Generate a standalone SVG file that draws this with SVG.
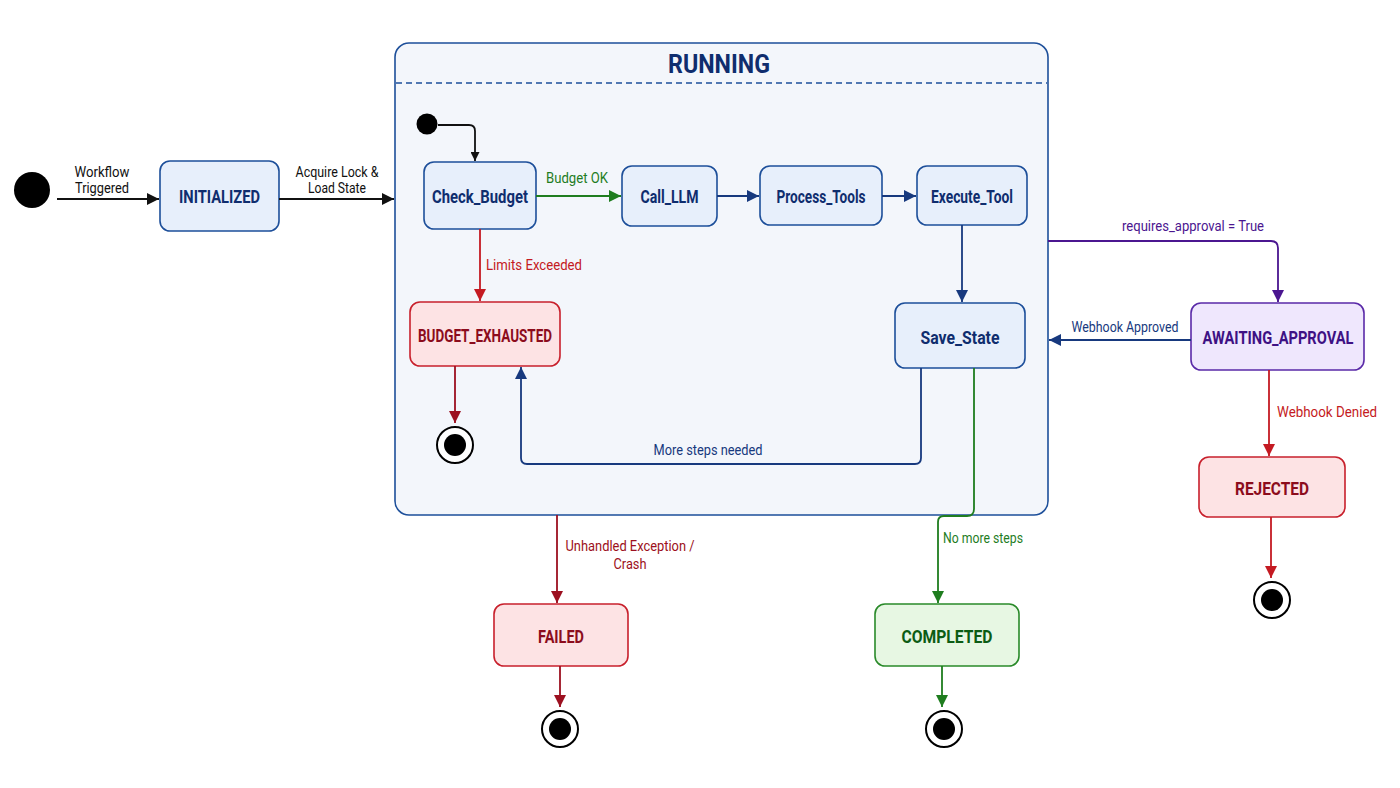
<svg xmlns="http://www.w3.org/2000/svg" width="1400" height="788" viewBox="0 0 1400 788">
<defs>
<style>
text{font-family:"Roboto","Liberation Sans",sans-serif;}
.n{font-size:18px;font-weight:bold;text-anchor:middle;dominant-baseline:central;}
.l{font-size:15px;}
.blue rect{fill:#e7effb;stroke:#1d4f9a;stroke-width:1.6;}
.blue text{fill:#0f2d6e;}
.red rect{fill:#fde3e4;stroke:#c8202c;stroke-width:1.6;}
.red text{fill:#8c0c1c;}
.green rect{fill:#e7f7e3;stroke:#2a8a2a;stroke-width:1.6;}
.green text{fill:#0c5c14;}
.purple rect{fill:#efe7fd;stroke:#5a2aa8;stroke-width:1.6;}
.purple text{fill:#3e1184;}
.e{fill:none;stroke-width:1.8;}
.k{stroke:#111;}
.b{stroke:#17397e;}
.r{stroke:#c41a22;}
.dr{stroke:#9c1020;}
.g{stroke:#1f7d1f;}
.p{stroke:#4b1690;}
</style>
<marker id="ak" viewBox="0 0 10 10" refX="10" refY="5" markerWidth="9" markerHeight="9" markerUnits="userSpaceOnUse" orient="auto"><path d="M0,0L10,5L0,10z" fill="#111"/></marker>
<marker id="ab" viewBox="0 0 10 10" refX="10" refY="5" markerWidth="12" markerHeight="12" markerUnits="userSpaceOnUse" orient="auto"><path d="M0,0L10,5L0,10z" fill="#17397e"/></marker>
<marker id="ar" viewBox="0 0 10 10" refX="10" refY="5" markerWidth="12" markerHeight="12" markerUnits="userSpaceOnUse" orient="auto"><path d="M0,0L10,5L0,10z" fill="#c41a22"/></marker>
<marker id="adr" viewBox="0 0 10 10" refX="10" refY="5" markerWidth="12" markerHeight="12" markerUnits="userSpaceOnUse" orient="auto"><path d="M0,0L10,5L0,10z" fill="#9c1020"/></marker>
<marker id="ag" viewBox="0 0 10 10" refX="10" refY="5" markerWidth="12" markerHeight="12" markerUnits="userSpaceOnUse" orient="auto"><path d="M0,0L10,5L0,10z" fill="#1f7d1f"/></marker>
<marker id="ap" viewBox="0 0 10 10" refX="10" refY="5" markerWidth="12" markerHeight="12" markerUnits="userSpaceOnUse" orient="auto"><path d="M0,0L10,5L0,10z" fill="#4b1690"/></marker>
<marker id="ak2" viewBox="0 0 10 10" refX="10" refY="5" markerWidth="12" markerHeight="12" markerUnits="userSpaceOnUse" orient="auto"><path d="M0,0L10,5L0,10z" fill="#111"/></marker>
</defs>
<rect width="1400" height="788" fill="#ffffff"/>

<g id="RUNNING">
<rect x="395" y="43" width="653" height="472" rx="14" fill="#f3f6fb" stroke="#1d4f9a" stroke-width="1.6"/>
<line x1="396" y1="83" x2="1047" y2="83" stroke="#1d4f9a" stroke-width="1.4" stroke-dasharray="6,4"/>
<text x="719" y="64" font-size="26" font-weight="bold" fill="#0f2d6e" text-anchor="middle" dominant-baseline="central" textLength="102" lengthAdjust="spacingAndGlyphs">RUNNING</text>
</g>

<g id="start">
<circle cx="32" cy="190" r="18" fill="#000"/>
</g>
<g id="inner_start">
<circle cx="427" cy="124" r="10.5" fill="#000"/>
</g>

<g id="INITIALIZED" class="blue">
<rect x="160" y="161" width="119" height="70" rx="10"/>
<text class="n" x="219.5" y="196" textLength="81" lengthAdjust="spacingAndGlyphs">INITIALIZED</text>
</g>
<g id="Check_Budget" class="blue">
<rect x="424" y="162" width="112" height="67" rx="10"/>
<text class="n" x="480" y="196" textLength="96" lengthAdjust="spacingAndGlyphs">Check_Budget</text>
</g>
<g id="Call_LLM" class="blue">
<rect x="622" y="166" width="95" height="60" rx="10"/>
<text class="n" x="669.5" y="196" textLength="58" lengthAdjust="spacingAndGlyphs">Call_LLM</text>
</g>
<g id="Process_Tools" class="blue">
<rect x="760" y="166" width="122" height="59" rx="10"/>
<text class="n" x="821" y="196" textLength="89" lengthAdjust="spacingAndGlyphs">Process_Tools</text>
</g>
<g id="Execute_Tool" class="blue">
<rect x="917" y="166" width="110" height="59" rx="10"/>
<text class="n" x="972" y="196" textLength="82" lengthAdjust="spacingAndGlyphs">Execute_Tool</text>
</g>
<g id="Save_State" class="blue">
<rect x="895" y="303" width="130" height="65" rx="10"/>
<text class="n" x="960" y="337" textLength="79" lengthAdjust="spacingAndGlyphs">Save_State</text>
</g>
<g id="BUDGET_EXHAUSTED" class="red">
<rect x="410" y="302" width="150" height="64" rx="10"/>
<text class="n" x="485" y="335" textLength="134" lengthAdjust="spacingAndGlyphs">BUDGET_EXHAUSTED</text>
</g>
<g id="AWAITING_APPROVAL" class="purple">
<rect x="1191" y="303" width="173" height="67" rx="10"/>
<text class="n" x="1278" y="337" textLength="151" lengthAdjust="spacingAndGlyphs">AWAITING_APPROVAL</text>
</g>
<g id="REJECTED" class="red">
<rect x="1199" y="457" width="146" height="60" rx="10"/>
<text class="n" x="1272" y="488" textLength="74" lengthAdjust="spacingAndGlyphs">REJECTED</text>
</g>
<g id="FAILED" class="red">
<rect x="494" y="604" width="134" height="62" rx="10"/>
<text class="n" x="561" y="636" textLength="46" lengthAdjust="spacingAndGlyphs">FAILED</text>
</g>
<g id="COMPLETED" class="green">
<rect x="875" y="604" width="144" height="62" rx="10"/>
<text class="n" x="947" y="636" textLength="91" lengthAdjust="spacingAndGlyphs">COMPLETED</text>
</g>

<g id="end_budget">
<circle cx="455" cy="445" r="18" fill="#fff" stroke="#000" stroke-width="2"/>
<circle cx="455" cy="445" r="11" fill="#000"/>
</g>
<g id="end_failed">
<circle cx="560" cy="729" r="18" fill="#fff" stroke="#000" stroke-width="2"/>
<circle cx="560" cy="729" r="11" fill="#000"/>
</g>
<g id="end_completed">
<circle cx="944" cy="729" r="18" fill="#fff" stroke="#000" stroke-width="2"/>
<circle cx="944" cy="729" r="11" fill="#000"/>
</g>
<g id="end_rejected">
<circle cx="1272" cy="600" r="18" fill="#fff" stroke="#000" stroke-width="2"/>
<circle cx="1272" cy="600" r="11" fill="#000"/>
</g>

<g id="connectors">
<path class="e k" d="M57,199H159" marker-end="url(#ak2)"/>
<text class="l" x="102" y="177" text-anchor="middle" fill="#111" textLength="55" lengthAdjust="spacingAndGlyphs">Workflow</text>
<text class="l" x="102" y="193" text-anchor="middle" fill="#111" textLength="54" lengthAdjust="spacingAndGlyphs">Triggered</text>

<path class="e k" d="M279,199H394" marker-end="url(#ak2)"/>
<text class="l" x="337" y="177" text-anchor="middle" fill="#111" textLength="83" lengthAdjust="spacingAndGlyphs">Acquire Lock &amp;</text>
<text class="l" x="337" y="193" text-anchor="middle" fill="#111" textLength="58" lengthAdjust="spacingAndGlyphs">Load State</text>

<path class="e k" d="M438,125H469Q475,125 475,131V161" marker-end="url(#ak)"/>

<path class="e g" d="M536,196H621" marker-end="url(#ag)"/>
<text class="l" x="577" y="183" text-anchor="middle" fill="#1f7d1f" textLength="62" lengthAdjust="spacingAndGlyphs">Budget OK</text>

<path class="e b" d="M717,196H759" marker-end="url(#ab)"/>
<path class="e b" d="M882,196H916" marker-end="url(#ab)"/>
<path class="e b" d="M962,225V302" marker-end="url(#ab)"/>

<path class="e r" d="M480,229V301" marker-end="url(#ar)"/>
<text class="l" x="486" y="270" fill="#c41a22" textLength="96" lengthAdjust="spacingAndGlyphs">Limits Exceeded</text>

<path class="e dr" d="M455,366V423" marker-end="url(#adr)"/>

<path class="e b" d="M921,368V458Q921,464 915,464H527Q521,464 521,458V367" marker-end="url(#ab)"/>
<text class="l" x="708" y="455" text-anchor="middle" fill="#17397e" textLength="109" lengthAdjust="spacingAndGlyphs">More steps needed</text>

<path class="e g" d="M974,368V509Q974,516 967,516H944Q938,516 938,522V603" marker-end="url(#ag)"/>
<text class="l" x="943" y="543" fill="#1f7d1f" textLength="80" lengthAdjust="spacingAndGlyphs">No more steps</text>

<path class="e g" d="M942,666V707" marker-end="url(#ag)"/>

<path class="e dr" d="M557,515V603" marker-end="url(#adr)"/>
<text class="l" x="630" y="551" text-anchor="middle" fill="#9c1020" textLength="129" lengthAdjust="spacingAndGlyphs">Unhandled Exception /</text>
<text class="l" x="630" y="569" text-anchor="middle" fill="#9c1020" textLength="33" lengthAdjust="spacingAndGlyphs">Crash</text>

<path class="e dr" d="M560,666V707" marker-end="url(#adr)"/>

<path class="e p" d="M1048,241H1271Q1278,241 1278,248V302" marker-end="url(#ap)"/>
<text class="l" x="1193" y="231" text-anchor="middle" fill="#4b1690" textLength="142" lengthAdjust="spacingAndGlyphs">requires_approval = True</text>

<path class="e b" d="M1191,340H1049" marker-end="url(#ab)"/>
<text class="l" x="1125" y="332" text-anchor="middle" fill="#17397e" textLength="107" lengthAdjust="spacingAndGlyphs">Webhook Approved</text>

<path class="e r" d="M1269,370V456" marker-end="url(#ar)"/>
<text class="l" x="1277" y="417" fill="#c41a22" textLength="100" lengthAdjust="spacingAndGlyphs">Webhook Denied</text>

<path class="e r" d="M1271,517V578" marker-end="url(#ar)"/>
</g>
</svg>
